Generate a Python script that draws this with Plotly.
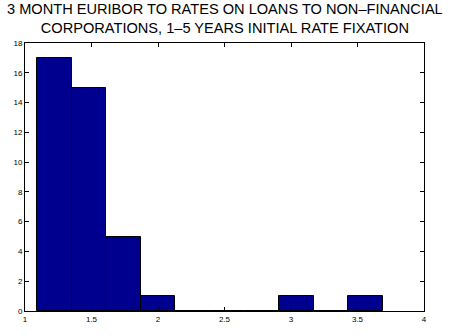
import plotly.graph_objects as go

# Histogram of the spread ratio: 10 equal-width bins
bin_edges = [1.0925, 1.3522, 1.6118, 1.8715, 2.1311, 2.3908,
             2.6504, 2.9101, 3.1697, 3.4294, 3.6890]
counts = [17, 15, 5, 1, 0, 0, 0, 1, 0, 1]

x_ticks = [1, 1.5, 2, 2.5, 3, 3.5, 4]
x_tick_text = ["1", "1.5", "2", "2.5", "3", "3.5", "4"]
y_ticks = [0, 2, 4, 6, 8, 10, 12, 14, 16, 18]

title_lines = ["3 MONTH EURIBOR TO RATES ON LOANS TO NON\u2013FINANCIAL",
               "CORPORATIONS, 1\u20135 YEARS INITIAL RATE FIXATION"]

centers = [(a + b) / 2 for a, b in zip(bin_edges[:-1], bin_edges[1:])]
widths = [b - a for a, b in zip(bin_edges[:-1], bin_edges[1:])]

fig = go.Figure(go.Bar(
    x=centers, y=counts, width=widths,
    marker=dict(color="#00008F", line=dict(color="black", width=1)),
))

axis_common = dict(
    showgrid=False, zeroline=False, showline=True, linecolor="black",
    linewidth=1, mirror="allticks", ticks="inside", ticklen=4,
    tickcolor="black", tickfont=dict(family="Liberation Sans, Arial", size=8, color="black"),
)

fig.update_layout(
    width=452, height=336,
    margin=dict(l=25, r=28, t=43, b=21),
    paper_bgcolor="white", plot_bgcolor="white",
    showlegend=False, bargap=0,
    xaxis=dict(range=[1, 4], tickvals=x_ticks, ticktext=x_tick_text, **axis_common),
    yaxis=dict(range=[0, 18], tickvals=y_ticks, **axis_common),
    annotations=[dict(
        text="<br>".join(title_lines), xref="paper", yref="paper",
        x=0.5, y=1, yshift=5, xanchor="center", yanchor="bottom",
        showarrow=False, align="center",
        font=dict(family="Liberation Sans, Arial", size=14.6, color="black"),
    )],
)

fig.write_html("out.html")
